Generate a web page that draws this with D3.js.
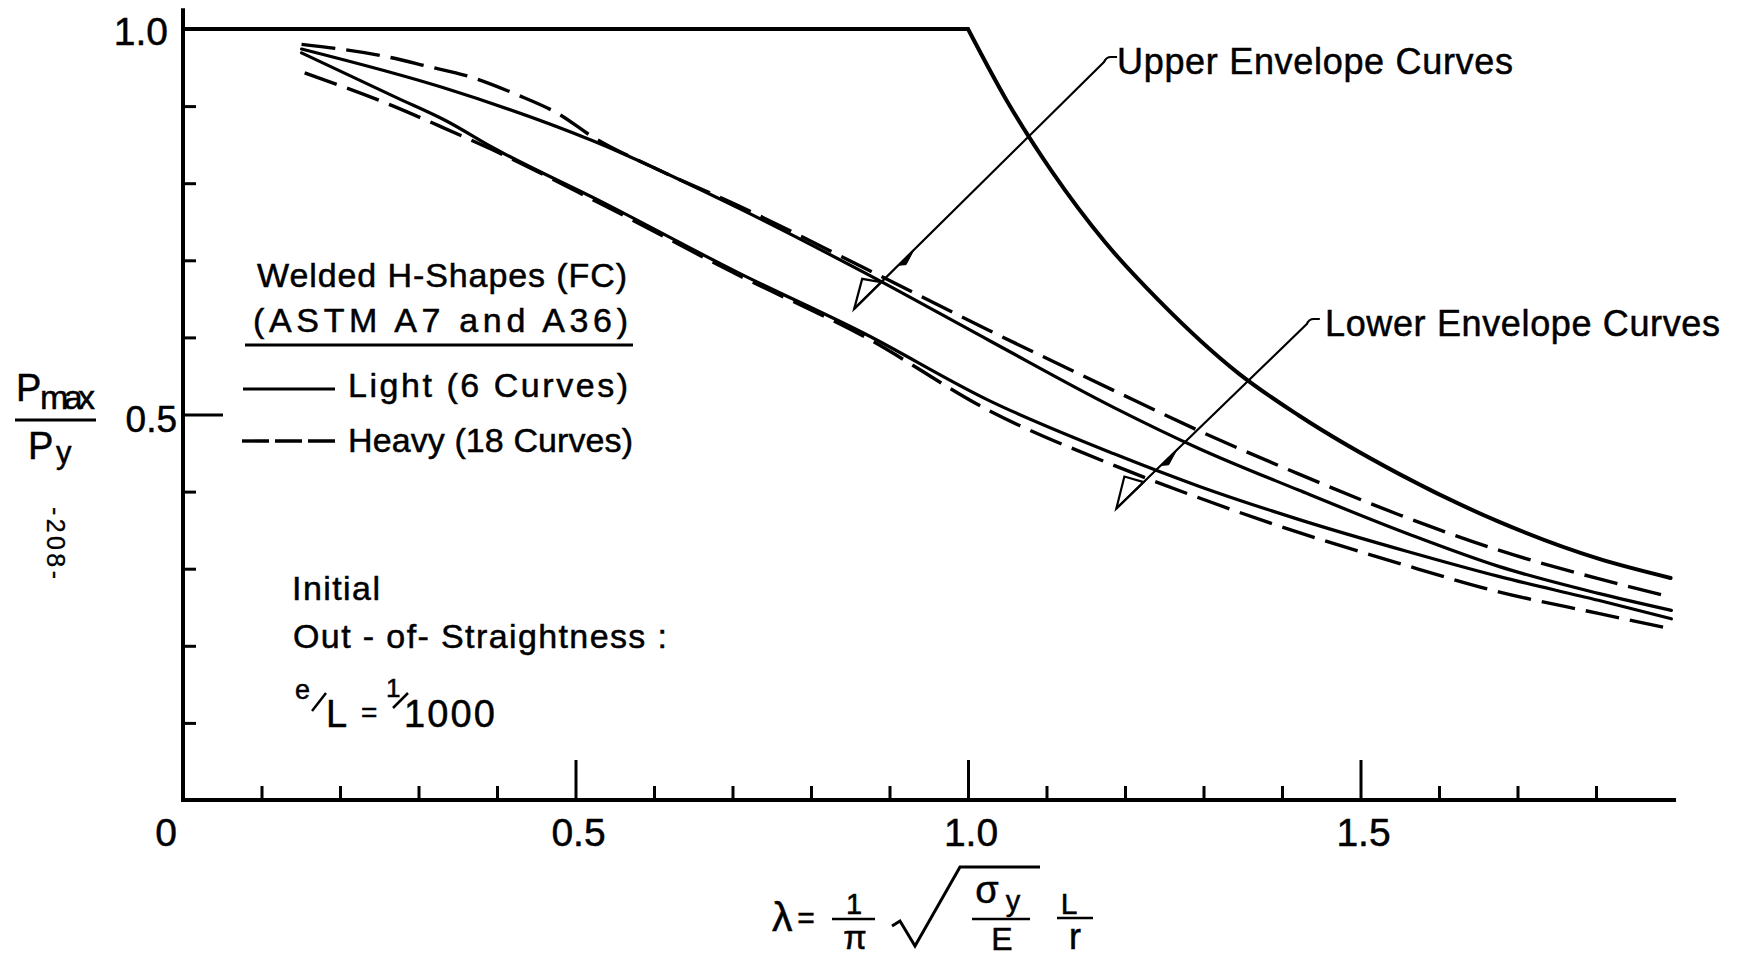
<!DOCTYPE html>
<html><head><meta charset="utf-8">
<script src="https://cdn.jsdelivr.net/npm/d3@7"></script>
<style>html,body{margin:0;padding:0;background:#fff;}svg{display:block}</style>
</head><body><svg id="c" width="1742" height="956"></svg>
<script>
// ---------- data ----------
const xTickMajor = [0.5, 1.0, 1.5];
const xTickMinor = [0.1,0.2,0.3,0.4,0.6,0.7,0.8,0.9,1.1,1.2,1.3,1.4,1.6,1.7,1.8];
const xTickLabelValues = [0, 0.5, 1.0, 1.5];
const xTickLabels = ["0", "0.5", "1.0", "1.5"];
const yTickMajor = [0.5];
const yTickMinor = [0.1,0.2,0.3,0.4,0.6,0.7,0.8,0.9];
const yTickLabelValues = [1.0, 0.5];
const yTickLabels = ["1.0", "0.5"];

// Euler (yield plateau + elastic buckling) curve
const eulerPlateau = [[0, 1.0], [1.0, 1.0]];
const eulerCurve = [[1.0,1.0],[1.05,0.906],[1.107,0.815],[1.175,0.723],[1.243,0.648],[1.345,0.553],
  [1.421,0.499],[1.549,0.423],[1.676,0.361],[1.803,0.313],[1.895,0.288]];

// Light shapes (solid) – upper and lower envelopes
const lightUpper = [[0.151,0.974],[0.331,0.924],[0.522,0.855],[0.709,0.767],[0.868,0.684],[1.027,0.596],
  [1.186,0.509],[1.294,0.456],[1.421,0.402],[1.561,0.345],[1.676,0.303],[1.803,0.268],[1.896,0.246]];
const lightLower = [[0.151,0.969],[0.272,0.911],[0.335,0.881],[0.395,0.846],[0.531,0.777],[0.709,0.683],
  [0.868,0.605],[1.027,0.518],[1.186,0.449],[1.294,0.407],[1.421,0.364],[1.561,0.322],[1.676,0.290],
  [1.803,0.259],[1.896,0.235]];

// Heavy shapes (dashed) – upper and lower envelopes
const heavyUpper = [[0.151,0.980],[0.255,0.965],[0.310,0.952],[0.369,0.937],[0.425,0.915],[0.480,0.889],
  [0.522,0.860],[0.600,0.820],[0.709,0.770],[0.868,0.690],[1.027,0.609],[1.186,0.531],[1.294,0.479],
  [1.421,0.423],[1.549,0.370],[1.676,0.324],[1.803,0.287],[1.896,0.263]];
const heavyLower = [[0.155,0.943],[0.268,0.900],[0.327,0.874],[0.395,0.843],[0.531,0.774],[0.709,0.680],
  [0.868,0.601],[1.027,0.505],[1.186,0.434],[1.294,0.392],[1.421,0.347],[1.549,0.307],[1.676,0.270],
  [1.803,0.242],[1.896,0.222]];

// arrow tips of the annotations (data coordinates)
const upperArrowTip = [0.855, 0.637];
const lowerArrowTip = [1.189, 0.378];

// ---------- drawing ----------
const FONT = "'Liberation Sans', Arial, sans-serif";
const INK = "#000";
const svg = d3.select("#c").attr("font-family", FONT);
svg.append("rect").attr("width",1742).attr("height",956).attr("fill","#fff");

const x = d3.scaleLinear().domain([0, 1.9]).range([183, 183 + 785*1.9]);
const y = d3.scaleLinear().domain([0, 1]).range([800, 29]);

function txt(px, py, s, size, opt = {}) {
  const t = svg.append("text").attr("x", px).attr("y", py)
    .attr("font-size", size).attr("fill", INK)
    .attr("stroke", INK).attr("stroke-width", opt.sw === undefined ? 0.5 : opt.sw)
    .attr("text-anchor", opt.anchor || "start").text(s);
  if (opt.len) t.attr("textLength", opt.len).attr("lengthAdjust", "spacing");
  return t;
}

// axes ticks (inward)
function styleAxis(g) {
  g.select(".domain").remove();
  g.selectAll(".tick line").attr("stroke", INK).attr("stroke-width", 3);
  g.selectAll(".tick text").remove();
}
svg.append("g").attr("transform","translate(0,800)")
  .call(d3.axisTop(x).tickValues(xTickMinor).tickSize(14).tickFormat(""))
  .call(styleAxis);
svg.append("g").attr("transform","translate(0,800)")
  .call(d3.axisTop(x).tickValues(xTickMajor).tickSize(40).tickFormat(""))
  .call(styleAxis);
svg.append("g").attr("transform","translate(183,0)")
  .call(d3.axisRight(y).tickValues(yTickMinor).tickSize(13).tickFormat(""))
  .call(styleAxis);
svg.append("g").attr("transform","translate(183,0)")
  .call(d3.axisRight(y).tickValues(yTickMajor).tickSize(40).tickFormat(""))
  .call(styleAxis);

// axis lines
svg.append("line").attr("x1",183).attr("x2",183).attr("y1",800).attr("y2",y(1.027))
  .attr("stroke",INK).attr("stroke-width",4);
svg.append("line").attr("x1",181).attr("x2",x(1.902)).attr("y1",800).attr("y2",800)
  .attr("stroke",INK).attr("stroke-width",4);

// tick labels
xTickLabelValues.forEach((v,i) => {
  txt(x(v) + (v === 0 ? -17 : 3), 846, xTickLabels[i], 39, {anchor:"middle"});
});
txt(168, 45, yTickLabels[0], 39, {anchor:"end"});
txt(177, 432, yTickLabels[1], 37, {anchor:"end"});

// curves
const line = d3.line().x(d => x(d[0])).y(d => y(d[1]));
const smooth = d3.line().x(d => x(d[0])).y(d => y(d[1])).curve(d3.curveMonotoneX);
function path(data, gen, w, dash) {
  const p = svg.append("path").datum(data).attr("d", gen).attr("fill","none")
    .attr("stroke", INK).attr("stroke-width", w).attr("stroke-linecap","round")
    .attr("stroke-linejoin","round");
  if (dash) p.attr("stroke-dasharray", dash).attr("stroke-linecap","butt");
  return p;
}
path(eulerPlateau, line, 4);
path(eulerCurve, smooth, 4);
path(lightUpper, smooth, 3.2);
path(lightLower, smooth, 3.2);
path(heavyUpper, smooth, 3.4, "34,11");
path(heavyLower, smooth, 3.4, "34,11");

// annotation arrows
function annotation(tipData, dir, aOff, stubY, label, textX, baseY, len) {
  const T = [x(tipData[0]), y(tipData[1])];
  const n = Math.hypot(dir[0], dir[1]);
  const u = [dir[0]/n, dir[1]/n];
  const perp = [-u[1], u[0]];     // right-hand side of the leader
  const t = (T[1] - (stubY + 5)) / -u[1];
  const S = [T[0] + u[0]*t, T[1] + u[1]*t];
  const P = d3.path();
  P.moveTo(T[0], T[1]); P.lineTo(S[0], S[1]);
  P.quadraticCurveTo(S[0] + 2, stubY, S[0] + 7, stubY);
  P.lineTo(S[0] + 13, stubY);
  svg.append("path").attr("d", P.toString()).attr("fill","none").attr("stroke",INK)
    .attr("stroke-width", 2.2).attr("stroke-linejoin","round");
  // open arrowhead
  const A = [T[0] + aOff[0], T[1] + aOff[1]];
  const C = [T[0] + u[0]*38, T[1] + u[1]*38];
  svg.append("path").attr("d", `M${T}L${A}L${C}Z`).attr("fill","none").attr("stroke",INK)
    .attr("stroke-width", 2.2).attr("stroke-linejoin","miter");
  // small filled barb on the leader
  const B1 = [T[0] + u[0]*62, T[1] + u[1]*62];
  const B2 = [T[0] + u[0]*84, T[1] + u[1]*84];
  const B3 = [T[0] + u[0]*68 + perp[0]*5, T[1] + u[1]*68 + perp[1]*5];
  svg.append("path").attr("d", `M${B1}L${B3}L${B2}Z`).attr("fill",INK).attr("stroke",INK).attr("stroke-width",1);
  txt(textX, baseY, label, 36, {len});
}
annotation(upperArrowTip, [251,-248], [8,-30], 57, "Upper  Envelope  Curves", 1117, 74, 396);
annotation(lowerArrowTip, [194,-188], [8,-32], 319, "Lower  Envelope  Curves", 1325, 336, 395);

// legend block
txt(257, 287, "Welded  H-Shapes (FC)", 34, {len:370});
txt(253, 332, "(ASTM  A7 and  A36)", 34, {len:375});
svg.append("line").attr("x1",245).attr("x2",633).attr("y1",345).attr("y2",345)
  .attr("stroke",INK).attr("stroke-width",3);
svg.append("line").attr("x1",243).attr("x2",335).attr("y1",389).attr("y2",389)
  .attr("stroke",INK).attr("stroke-width",3.2);
txt(348, 397, "Light  (6 Curves)", 34, {len:280});
svg.append("line").attr("x1",242).attr("x2",335).attr("y1",441).attr("y2",441)
  .attr("stroke",INK).attr("stroke-width",3.4).attr("stroke-dasharray","27,6");
txt(348, 452, "Heavy (18 Curves)", 34, {len:285});

txt(292, 600, "Initial", 34, {len:88});
txt(293, 648, "Out - of- Straightness :", 34, {len:374});
// e/L = 1/1000
txt(295, 699, "e", 27);
svg.append("line").attr("x1",312).attr("y1",711).attr("x2",326).attr("y2",693).attr("stroke",INK).attr("stroke-width",2.5);
txt(326, 727, "L", 38);
txt(361, 722, "=", 28);
txt(386, 697, "1", 26);
svg.append("line").attr("x1",393).attr("y1",708).attr("x2",408).attr("y2",693).attr("stroke",INK).attr("stroke-width",2.5);
txt(404, 727, "1000", 38, {len:91});

// y-axis title  Pmax / Py
txt(16, 401, "P", 38);
txt(40, 409, "max", 34, {len:55});
svg.append("line").attr("x1",15).attr("x2",96).attr("y1",420).attr("y2",420).attr("stroke",INK).attr("stroke-width",3);
txt(28, 459, "P", 38);
txt(56, 463, "y", 31);

// page number
txt(0, 0, "-208-", 25, {anchor:"middle", len:72, sw:0.3}).attr("transform","translate(47,543) rotate(90)");

// x-axis title  λ = 1/π √(σy/E) L/r
txt(772, 931, "λ", 41);
txt(806, 928, "=", 30, {anchor:"middle"});
txt(854, 914, "1", 29, {anchor:"middle"});
svg.append("line").attr("x1",832).attr("x2",875).attr("y1",919).attr("y2",919).attr("stroke",INK).attr("stroke-width",2.6);
txt(855, 949, "π", 34, {anchor:"middle"});
svg.append("path").attr("d","M892,926L900,921L915,946L960,867L1040,867").attr("fill","none")
  .attr("stroke",INK).attr("stroke-width",3).attr("stroke-linejoin","miter");
txt(987, 903, "σ", 38, {anchor:"middle"});
txt(1013, 911, "y", 29, {anchor:"middle"});
svg.append("line").attr("x1",972).attr("x2",1030).attr("y1",919).attr("y2",919).attr("stroke",INK).attr("stroke-width",2.6);
txt(1002, 950, "E", 32, {anchor:"middle"});
txt(1069, 914, "L", 30, {anchor:"middle"});
svg.append("line").attr("x1",1057).attr("x2",1093).attr("y1",918).attr("y2",918).attr("stroke",INK).attr("stroke-width",2.6);
txt(1075, 949, "r", 36, {anchor:"middle"});
</script></body></html>
